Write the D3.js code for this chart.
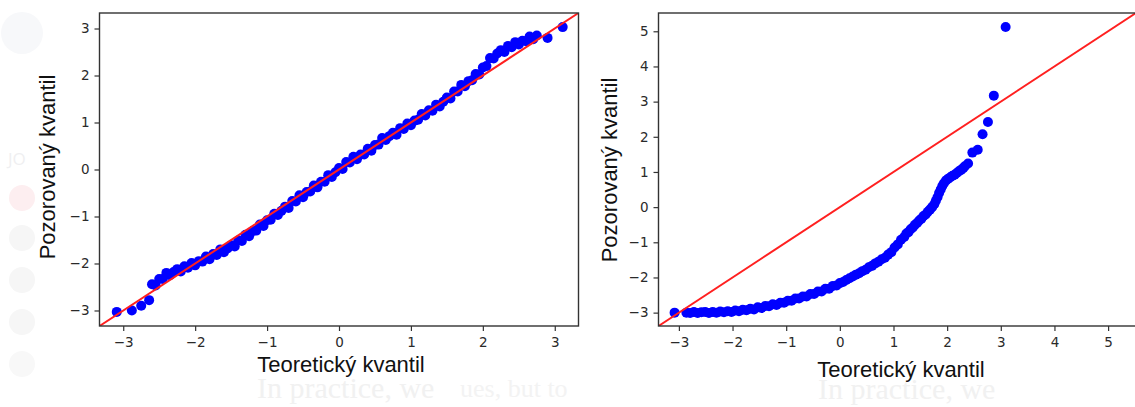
<!DOCTYPE html>
<html>
<head>
<meta charset="utf-8">
<script src="https://cdn.jsdelivr.net/npm/d3@7"></script>
<style>
  html, body { margin: 0; padding: 0; background: #fff; }
  svg { display: block; }
</style>
</head>
<body>
<script>
// ---- data ----
// left panel: sample from a normal distribution
const leftTheo = [-3.09, -2.88, -2.75, -2.64,
  -2.60, -2.55, -2.50, -2.45, -2.40, -2.35, -2.30, -2.25, -2.20, -2.15, -2.10, -2.05,
  -2.00, -1.95, -1.90, -1.85, -1.80, -1.75, -1.70, -1.65, -1.60, -1.55, -1.50, -1.45,
  -1.40, -1.35, -1.30, -1.25, -1.20, -1.15, -1.10, -1.05, -1.00, -0.95, -0.90, -0.85,
  -0.80, -0.75, -0.70, -0.65, -0.60, -0.55, -0.50, -0.45, -0.40, -0.35, -0.30, -0.25,
  -0.20, -0.15, -0.10, -0.05, 0.00, 0.05, 0.10, 0.15, 0.20, 0.25, 0.30, 0.35,
  0.40, 0.45, 0.50, 0.55, 0.60, 0.65, 0.70, 0.75, 0.80, 0.85, 0.90, 0.95,
  1.00, 1.05, 1.10, 1.15, 1.20, 1.25, 1.30, 1.35, 1.40, 1.45, 1.50, 1.55,
  1.60, 1.65, 1.70, 1.75, 1.80, 1.85, 1.90, 1.95, 2.00, 2.05, 2.10, 2.15,
  2.20, 2.25, 2.30, 2.35, 2.40, 2.45, 2.50, 2.55, 2.60, 2.65, 2.70, 2.75,
  2.90, 3.11];
const leftObs = [-3.03, -3.00, -2.90, -2.78,
  -2.44, -2.47, -2.33, -2.33, -2.20, -2.25, -2.18, -2.12, -2.17, -2.06, -2.09, -1.99,
  -2.04, -1.95, -1.96, -1.85, -1.91, -1.80, -1.82, -1.70, -1.76, -1.68, -1.61, -1.64,
  -1.51, -1.52, -1.39, -1.42, -1.31, -1.30, -1.17, -1.20, -1.08, -1.07, -0.94, -0.97,
  -0.88, -0.79, -0.82, -0.67, -0.68, -0.55, -0.59, -0.48, -0.47, -0.34, -0.38, -0.26,
  -0.26, -0.12, -0.16, -0.06, 0.03, 0.01, 0.16, 0.15, 0.27, 0.22, 0.32, 0.32,
  0.44, 0.40, 0.52, 0.53, 0.67, 0.63, 0.71, 0.78, 0.74, 0.88, 0.86, 0.98,
  0.94, 1.04, 1.06, 1.18, 1.15, 1.26, 1.25, 1.38, 1.34, 1.44, 1.53, 1.51,
  1.66, 1.66, 1.80, 1.77, 1.88, 1.90, 2.03, 2.02, 2.17, 2.20, 2.37, 2.36,
  2.47, 2.54, 2.50, 2.63, 2.60, 2.71, 2.66, 2.74, 2.73, 2.83, 2.77, 2.85,
  2.80, 3.03];

// right panel: skewed sample
const rightTheo = [-3.08,
  -2.86, -2.79, -2.72, -2.65, -2.58, -2.51, -2.44, -2.37, -2.30, -2.23, -2.16, -2.09,
  -2.02, -1.95, -1.88, -1.81, -1.74, -1.67, -1.60, -1.53, -1.46, -1.39, -1.32, -1.25,
  -1.18, -1.11, -1.04, -0.97, -0.90, -0.83, -0.76, -0.69, -0.62, -0.55, -0.48, -0.41,
  -0.34, -0.27, -0.20, -0.13, -0.06,
  0.00, 0.06, 0.12, 0.18, 0.24, 0.30, 0.36, 0.42, 0.48, 0.54, 0.60, 0.66,
  0.72, 0.78, 0.84, 0.90, 0.96, 1.02, 1.08, 1.14, 1.20,
  1.24, 1.28, 1.32, 1.36, 1.40, 1.44, 1.48, 1.52, 1.56, 1.60, 1.64, 1.68,
  1.72, 1.76, 1.79, 1.82, 1.85, 1.88, 1.91, 1.94, 1.98, 2.02, 2.06, 2.10,
  2.14, 2.18, 2.22, 2.26, 2.30, 2.33,
  2.39, 2.47, 2.57, 2.66, 2.76, 2.87, 3.09];
const rightObs = [-3.00,
  -3.00, -3.01, -2.98, -3.01, -2.99, -2.98, -3.01, -2.98, -3.00, -2.97, -2.99, -2.96,
  -2.98, -2.94, -2.96, -2.92, -2.93, -2.89, -2.91, -2.85, -2.87, -2.81, -2.82, -2.76,
  -2.78, -2.72, -2.72, -2.66, -2.66, -2.60, -2.60, -2.54, -2.54, -2.47, -2.47, -2.40,
  -2.40, -2.32, -2.32, -2.24, -2.23,
  -2.16, -2.13, -2.07, -2.02, -1.97, -1.92, -1.88, -1.82, -1.78, -1.71, -1.67, -1.60,
  -1.55, -1.48, -1.44, -1.35, -1.28, -1.15, -1.06, -0.93, -0.85,
  -0.75, -0.71, -0.63, -0.58, -0.50, -0.45, -0.38, -0.33, -0.25, -0.21, -0.13, -0.07,
  0.00, 0.08, 0.18, 0.28, 0.40, 0.50, 0.60, 0.68, 0.76, 0.81, 0.85, 0.89,
  0.92, 0.97, 1.02, 1.06, 1.11, 1.16,
  1.24, 1.55, 1.63, 2.07, 2.42, 3.17, 5.12];

const leftLimits  = [-3.33, 3.33];
const rightLimits = [-3.38, 5.52];
const leftTicks   = [-3, -2, -1, 0, 1, 2, 3];
const rightTicks  = [-3, -2, -1, 0, 1, 2, 3, 4, 5];

const xLabel = 'Teoretický kvantil';
const yLabel = 'Pozorovaný kvantil';

const blue = '#0000ff';
const red  = '#ff2020';
const ink  = '#111';

const svg = d3.select('body').append('svg').attr('width', 1135).attr('height', 407);

// faint page remnants behind the figure
const ghost = svg.append('g');
ghost.append('circle').attr('cx', 22).attr('cy', 33).attr('r', 21).attr('fill', '#f7f8fa');
ghost.append('text').attr('x', 8).attr('y', 165).text('JO')
  .style('font-family', 'Open Sans').style('font-size', '17px').style('fill', '#efeff1');
[[22, 198, '#fdeef0'], [22, 238, '#f6f6f6'], [22, 280, '#f6f6f6'], [22, 322, '#f6f6f6'], [22, 364, '#f8f8f8']]
  .forEach(([cx, cy, c]) => ghost.append('circle').attr('cx', cx).attr('cy', cy).attr('r', 13).attr('fill', c));
ghost.append('text').attr('x', 257).attr('y', 398).text('In practice, we')
  .style('font-family', 'Liberation Serif').style('font-size', '30px').style('fill', '#f1f1f1');
ghost.append('text').attr('x', 460).attr('y', 397).text('ues, but to')
  .style('font-family', 'Liberation Serif').style('font-size', '26px').style('fill', '#f3f3f3');
ghost.append('text').attr('x', 818).attr('y', 399).text('In practice, we')
  .style('font-family', 'Liberation Serif').style('font-size', '30px').style('fill', '#f1f1f1');

function qqPanel(p) {
  const x = d3.scaleLinear().domain(p.limits).range([p.left, p.right]);
  const y = d3.scaleLinear().domain(p.limits).range([p.bottom, p.top]);
  const g = svg.append('g');

  g.append('clipPath').attr('id', p.id)
    .append('rect').attr('x', p.left).attr('y', p.top)
    .attr('width', p.right - p.left).attr('height', p.bottom - p.top);

  const plot = g.append('g').attr('clip-path', `url(#${p.id})`);
  plot.selectAll('circle').data(p.theo).join('circle')
    .attr('cx', d => x(d))
    .attr('cy', (d, i) => y(p.obs[i]))
    .attr('r', 5)
    .attr('fill', blue);

  plot.append('line')
    .attr('x1', x(p.limits[0])).attr('y1', y(p.limits[0]))
    .attr('x2', x(p.limits[1])).attr('y2', y(p.limits[1]))
    .attr('stroke', red).attr('stroke-width', 2);

  const styleAxis = a => {
    a.select('.domain').remove();
    a.selectAll('line').attr('stroke', '#333').attr('stroke-width', 1.2);
    a.selectAll('text').style('font-family', 'DejaVu Sans').style('font-size', '13.5px').style('fill', '#2a2a2a');
  };
  g.append('g').attr('transform', `translate(0,${p.bottom})`)
    .call(d3.axisBottom(x).tickValues(p.ticks).tickSize(5).tickPadding(6).tickFormat(d3.format('d')))
    .call(styleAxis);
  g.append('g').attr('transform', `translate(${p.left},0)`)
    .call(d3.axisLeft(y).tickValues(p.ticks).tickSize(5).tickPadding(5).tickFormat(d3.format('d')))
    .call(styleAxis);

  g.append('rect').attr('x', p.left).attr('y', p.top)
    .attr('width', p.right - p.left).attr('height', p.bottom - p.top)
    .attr('fill', 'none').attr('stroke', '#333').attr('stroke-width', 1.4);

  g.append('text').attr('x', p.xlx).attr('y', p.xly).attr('text-anchor', 'middle')
    .text(xLabel).style('font-family', 'Liberation Sans').style('font-size', '22px').style('fill', ink);
  g.append('text').attr('transform', `translate(${p.ylx},${p.yly}) rotate(-90)`).attr('text-anchor', 'middle')
    .text(yLabel).style('font-family', 'Liberation Sans').style('font-size', '22px').style('fill', ink);
}

qqPanel({ id: 'clipL', theo: leftTheo, obs: leftObs, limits: leftLimits, ticks: leftTicks,
  left: 99.5, right: 578.5, top: 13, bottom: 326, xlx: 341, xly: 372, ylx: 55, yly: 167 });
qqPanel({ id: 'clipR', theo: rightTheo, obs: rightObs, limits: rightLimits, ticks: rightTicks,
  left: 658.5, right: 1136, top: 13, bottom: 326, xlx: 901, xly: 377, ylx: 617, yly: 170 });
</script>
</body>
</html>
